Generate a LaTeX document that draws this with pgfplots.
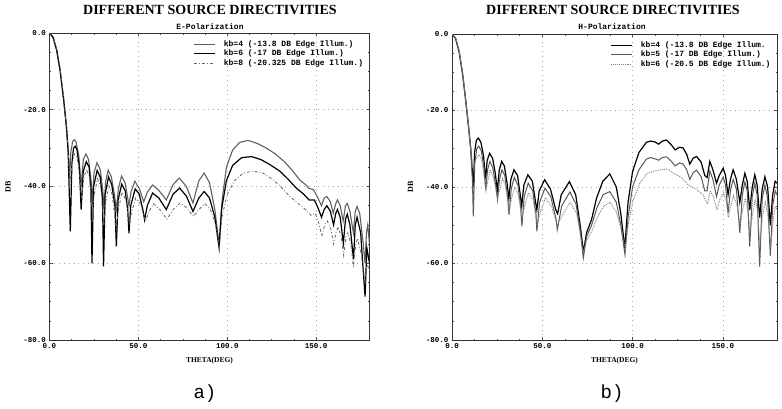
\documentclass[border=0pt]{standalone}
\usepackage{pgfplots}
\pgfplotsset{compat=1.18}
\usepackage{fontspec}
\setmainfont{Liberation Serif}
\newfontfamily\monofont{Liberation Mono}
\pgfplotsset{
  myaxis/.style={
    scale only axis,
    anchor=south west,
    xmin=0, xmax=180, ymin=-80, ymax=0,
    xtick={0,50,100,150}, ytick={-80,-60,-40,-20,0},
    minor tick num=3,
    tick align=inside,
    major tick length=3pt, minor tick length=1.5pt,
    axis line style={black!80, line width=1pt},
    every tick/.style={black!70, line width=0.6pt},
    grid=major,
    major grid style={gray!70, dash pattern=on 0.8pt off 4pt, line width=0.6pt},
    ticklabel style={font=\monofont\bfseries\fontsize{7.5}{8}\selectfont},
    /pgf/number format/assume math mode=true,
    /pgf/number format/.cd, fixed, fixed zerofill, precision=1,
    /pgfplots/.cd,
    xlabel={THETA(DEG)},
    xlabel style={font=\bfseries\fontsize{7.5}{8}\selectfont, yshift=-2pt},
    ylabel={DB},
    ylabel style={font=\bfseries\fontsize{8}{9}\selectfont, yshift=6pt},
    legend style={draw=none, fill=none, at={(rel axis cs:0.99,0.985)}, anchor=north east,
      font=\monofont\bfseries\fontsize{8}{8.5}\selectfont, row sep=-2pt, inner sep=1pt},
    legend cell align=left,
    legend image code/.code={\draw[##1] (0cm,0cm) -- (0.72cm,0cm); \path (0.95cm,0cm);},
  }
}
\begin{document}
\begin{tikzpicture}[x=1pt,y=1pt]
\path[use as bounding box] (0,0) rectangle (782,408);
% ---------------- a) E-polarization
\begin{axis}[myaxis, at={(49.5pt,68pt)}, width=320pt, height=307pt]
\addplot[gray!75!black, line width=1.1pt] table {
0 0
2 -1.2
4 -4.5
6 -10
8 -17.5
9.5 -24
10.5 -30
11.3 -38
12 -31
13 -28.3
14 -27.8
15 -28.5
16.5 -32
17.8 -40
19 -33
20.5 -31.5
22 -33
23.5 -39
24 -45
25 -36.5
26.7 -33.8
28.5 -35.5
30 -41
30.6 -46
31.5 -39
33 -35.7
34.8 -37.5
36.5 -42
37.6 -46
38.8 -40.5
40.5 -37.3
42.5 -39
44 -43
44.7 -45
45.8 -41.5
48 -38.6
50.5 -40.5
53 -44
55 -41.5
58 -39.6
61.5 -41
65.7 -43.5
69.5 -39.5
73 -37.8
77 -40
80.7 -44.3
84 -38.5
87 -36.5
90 -39
93 -46
95.4 -55
97 -44
99.5 -35
103 -30.5
107 -28.5
111.7 -28
117 -28.8
122 -30
127 -31.5
132 -33.5
136 -35.5
140.8 -38.3
144 -39.5
146 -40.5
148.5 -40.8
151 -43
153 -45
154.5 -43
156 -42.6
158 -44
159.6 -47
161 -44.5
162 -43.5
163.5 -45
165.2 -49
166.5 -45
167.5 -44.4
169 -46.5
170.9 -52
172 -46.5
173 -45.2
174.5 -47
176.5 -55
177.5 -60
178.3 -52
179 -50
180 -55
};
\addlegendentry{kb=4 (-13.8 DB Edge Illum.)}
\addplot[black, line width=1.2pt] table {
0 0
2 -1.1
4 -4.3
6 -9.8
8 -17.5
9.5 -24.5
10.5 -31
11.7 -51.7
12.6 -34
13.5 -30
14.5 -29.5
15.5 -30.5
16.8 -35
17.8 -46
19 -36
20.7 -33.5
22.3 -35
23.3 -41
23.9 -60
24.8 -40
26.8 -35.8
28.5 -37.5
29.8 -43
30.4 -60.8
31.3 -42
33.2 -37.5
35 -39.5
36.8 -45
37.6 -55.6
38.6 -43.5
40.6 -39.4
42.5 -41
44 -46
44.7 -52.2
45.7 -45
48.2 -40.6
50.5 -42
52.5 -46
53.5 -48.7
55 -45
58 -41.7
61.5 -43
65.7 -46
69.5 -42
73.2 -40.4
77 -42.5
80.7 -46.5
84 -43
87 -41.3
90 -43
93 -48
95.4 -56
96.8 -46
99.5 -38.5
103 -34.5
108 -32.5
113.6 -32.2
119 -33
124 -34.3
129.6 -36
134 -38
139 -40.5
143 -42
146 -43.5
149 -43.5
151 -45.5
153 -48
154.5 -46
156 -45
158 -46.5
159.8 -50
161 -47
162 -46
163.5 -48
165.3 -54.8
166.5 -48.5
167.5 -47.2
169 -50
171 -59
172 -50
173 -48
175 -52
177.5 -68.7
178.5 -56
180 -60
};
\addlegendentry{kb=6 (-17 DB Edge Illum.)}
\addplot[gray!80!black, line width=0.8pt, dash pattern=on 3pt off 2pt on 0.8pt off 2pt] table {
0 0
2 -1.0
4 -4.0
6 -9.5
8 -17
9.5 -24.5
10.5 -30.5
11.5 -40
12.6 -34.5
14 -31.5
15.5 -32.5
17 -37
18 -43
19.2 -38
20.8 -35.5
22.5 -37.5
24.2 -47
25.2 -42
27 -38
28.8 -40
30.6 -50
31.6 -44
33.4 -39.8
35.2 -42
37.6 -51
38.8 -46
40.8 -41.5
43 -43.5
45 -50
46 -47
48.5 -43
51 -44.5
54 -49
56 -46.5
58.5 -44.5
62 -46
66 -48.5
69.5 -46
73.5 -44.3
77 -45.5
81 -47.8
84 -46
87.5 -44.5
90.5 -46
93.5 -50
95.5 -56
97 -48
100 -42
104 -38.5
109 -36.5
114.4 -36
120 -36.5
125 -38
130 -40
135 -42.5
140 -44.5
144 -46
147 -47.5
149.5 -47
151.5 -49.5
153.2 -53
154.8 -50
156.3 -49
158.2 -51
159.8 -55
161.2 -52
162.3 -50.5
164 -53
165.5 -58
166.8 -53
167.8 -52
169.5 -55
171 -61
172.3 -55
173.3 -53.5
175.5 -58
177.5 -65
178.6 -60
180 -62
};
\addlegendentry{kb=8 (-20.325 DB Edge Illum.)}
\end{axis}
% ---------------- b) H-polarization
\begin{axis}[myaxis, at={(452pt,68pt)}, width=325pt, height=306pt]
\addplot[black, line width=1.2pt] table {
0 0
2 -1.2
4 -4.8
6 -11
7.5 -17
9 -23.5
10.3 -29.5
11.3 -36
11.8 -40
12.5 -31
13.5 -27.8
14.6 -27.2
16 -28.3
17.5 -32
18.6 -38
19.5 -33
20.8 -31.2
22.5 -32.5
24 -36.5
25.1 -41
26.2 -35.5
27.5 -33.3
29 -34.5
30.5 -39
31.5 -43
32.6 -38
34.3 -35.5
36.3 -37
37.8 -42
38.6 -45
39.8 -39.5
42 -36.8
44.5 -38.5
46.3 -44
47 -46
48.3 -41
51.3 -38.1
54.5 -40.5
57.5 -46
58.5 -47
60.5 -42
65 -38.6
68.5 -42
71 -50
72.8 -57
74.5 -52
77.3 -48.5
80 -43
83.5 -38.5
87.4 -36.6
91 -40
93.5 -47
95.7 -56
97.5 -44
100 -36
103.5 -31
107.7 -28.3
110 -28
112.3 -28.2
114.5 -28.8
116.5 -28.0
118.8 -27.7
121.5 -29
123.6 -30.3
126 -29.6
128 -29.8
130 -31.5
131.7 -34
133.5 -32.5
135.4 -32
138 -33.5
140 -37
141.3 -37.5
142.8 -33.3
144.5 -35.5
146.5 -39
148 -37
150.2 -35.1
151.5 -37
152.9 -42
154.2 -38
155.7 -35.5
157.5 -38
159.4 -44
160.8 -39.5
162.2 -36.4
163.5 -38.5
164.9 -46
166.3 -40
167.7 -36.8
169 -39.5
170.4 -48
171.8 -40.5
173.3 -37.3
174.8 -40
176.3 -50
177.6 -42
179 -38.5
180 -39
};
\addlegendentry{kb=4 (-13.8 DB Edge Illum.}
\addplot[gray!70!black, line width=1pt] table {
0 0
2 -1.1
4 -4.6
6 -10.8
7.5 -17
9 -23.5
10.3 -30
11.3 -38
11.8 -47.7
12.6 -34
13.7 -30
14.8 -29.3
16.2 -30.5
17.7 -35
18.7 -40.7
19.7 -35.5
21 -33.3
22.6 -35
24.2 -39.5
25.2 -43.3
26.3 -38
27.7 -35.5
29.2 -37
30.7 -42
31.6 -47.3
32.8 -40.5
34.5 -37.5
36.5 -39.5
38 -45
38.7 -50.3
40 -42.5
42.2 -39
44.7 -41
46.5 -47
47 -51.6
48.5 -44
51.5 -40.3
54.7 -42.5
57.7 -48.5
58.3 -51.2
60.7 -45
65.3 -41.3
68.7 -44.5
71.2 -52
72.7 -58.6
74.5 -53
77.3 -50
80.2 -45.5
83.7 -42
87.4 -41.2
91 -44
93.5 -50
95.8 -57.7
97.5 -48
100 -40
103.5 -35.5
107.7 -32.7
110 -32.3
112.3 -32.6
114.5 -33
116.5 -32.3
118.8 -32.1
121.5 -33.3
123.6 -34.5
126 -33.7
128 -34
130 -35.5
131.7 -38
133.5 -36.3
135.4 -35.6
138 -37.3
140 -41
141.3 -41
142.8 -35.8
144.5 -38
146.5 -42.5
148 -39.5
150.2 -37.4
151.5 -39.5
152.9 -46.8
154.2 -41
155.7 -38
157.5 -40.5
159.4 -52
160.8 -42
162.2 -38.7
163.5 -41
164.9 -55.5
166.3 -42.5
167.7 -39
169 -42
170.4 -60.8
171.8 -43
173.3 -39.5
174.8 -43
176.3 -58
177.6 -45
179 -41
180 -42
};
\addlegendentry{kb=5 (-17 DB Edge Illum.)}
\addplot[gray, line width=0.9pt, densely dotted] table {
0 0
2 -1.0
4 -4.3
6 -10.3
7.5 -16.5
9 -23
10.3 -29.5
11.5 -35
12.8 -33
14.9 -31.5
16.5 -33
18.8 -41
20 -38
21.2 -35.5
23 -37.5
25.3 -43
26.5 -40.5
28 -37.8
29.5 -39.5
31.7 -46
33 -43
34.7 -40
36.7 -42
38.8 -48
40.2 -45
42.4 -41.5
45 -43.5
47.2 -50
48.7 -47
51.7 -42.8
55 -45
58.3 -50
61 -47.5
65.5 -44
69 -47
72.7 -57
74.5 -54
77.5 -51.5
80.5 -48
84 -45
87.5 -44
91 -46.5
93.7 -51
95.9 -56
97.6 -50
100 -44
104 -39
108 -36.5
112 -35.8
116 -35.5
119 -35.3
123 -36.5
127 -37.5
131 -39.5
135 -40.5
139 -42
141.5 -44.5
143 -41
144.8 -42.5
146.8 -46
148.2 -43.5
150.4 -41.5
152 -44
153 -48
154.4 -45
155.9 -42.3
157.7 -44.5
159.5 -50
161 -46
162.4 -43
163.7 -45.5
165 -52
166.5 -47
167.9 -43.5
169.2 -46
170.5 -55
172 -47.5
173.5 -44
175 -47.5
176.5 -56
177.8 -49
179 -45
180 -46
};
\addlegendentry{kb=6 (-20.5 DB Edge Illum.)}
\end{axis}
% titles and captions
\node[font=\bfseries\fontsize{14}{15}\selectfont] at (210,398) {DIFFERENT SOURCE DIRECTIVITIES};
\node[font=\monofont\bfseries\fontsize{8}{9}\selectfont] at (210,381) {E-Polarization};
\node[font=\bfseries\fontsize{14}{15}\selectfont] at (613,398) {DIFFERENT SOURCE DIRECTIVITIES};
\node[font=\monofont\bfseries\fontsize{8}{9}\selectfont] at (612,381) {H-Polarization};
\node[font=\monofont\fontsize{19}{20}\selectfont] at (205,14) {a)};
\node[font=\monofont\fontsize{19}{20}\selectfont] at (612,14) {b)};
\end{tikzpicture}
\end{document}
